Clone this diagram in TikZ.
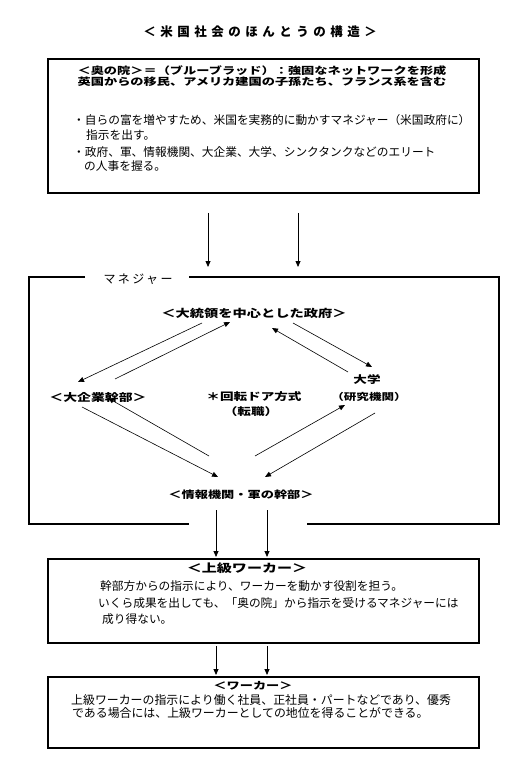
\documentclass[tikz,border=0pt]{standalone}
\usepackage{fontspec}
\usetikzlibrary{arrows.meta,positioning,calc}
\newfontfamily\jp{Noto Sans CJK JP}
\newfontfamily\jphead[FakeStretch=1.32]{Noto Sans CJK JP}
\newfontfamily\jptitle[LetterSpace=36]{Noto Sans CJK JP}
\newfontfamily\jpspaced[LetterSpace=20]{Noto Sans CJK JP}
\definecolor{inkblack}{HTML}{000000}

\begin{document}
\begin{tikzpicture}[x=1pt,y=-1pt,
  head/.style={font=\jphead\bfseries\fontsize{10}{12}\selectfont,inner sep=0},
  body/.style={font=\jp\fontsize{11.7}{14}\selectfont,anchor=west,inner sep=0},
  frame/.style={draw=inkblack,line width=1.1pt,anchor=north west,outer sep=0},
  arr/.style={-{Triangle[length=6pt,width=5pt]},line width=0.8pt},
  diag/.style={-{Triangle[length=6pt,width=5pt]},line width=0.6pt}]
\useasboundingbox (0,0) rectangle (517,767);

% title
\node[font=\jptitle\bfseries\fontsize{12.5}{14}\selectfont,inner sep=0] (title) at (260,32) {＜米国社会のほんとうの構造＞};

% oku no in
\node[frame,minimum width=431,minimum height=134] (okunoin) at (48,59) {};
\node[head] (oku1) at (262,71) {＜奥の院＞＝（ブルーブラッド）：強固なネットワークを形成};
\node[head] (oku2) at (262,82) {英国からの移民、アメリカ建国の子孫たち、フランス系を含む};
\node[body] (okub1) at (73,120) {・自らの富を増やすため、米国を実務的に動かすマネジャー（米国政府に）};
\node[body] (okub1b) at (86,135) {指示を出す。};
\node[body] (okub2) at (73,152) {・政府、軍、情報機関、大企業、大学、シンクタンクなどのエリート};
\node[body] (okub2b) at (84,166) {の人事を握る。};

\coordinate (down1s) at (208,213); \coordinate (down1e) at (208,267);
\coordinate (down2s) at (298,213); \coordinate (down2e) at (298,267);
\draw[arr] (down1s) -- (down1e);
\draw[arr] (down2s) -- (down2e);

% manager frame
\draw[line width=1.2pt] (85,277) -- (29,277) -- (29,524) -- (189,524);
\draw[line width=1.2pt] (307,524) -- (499,524) -- (499,277) -- (189,277);
\node[font=\jpspaced\fontsize{12}{14}\selectfont,inner sep=0] (mgr) at (138,279) {マネジャー};

\node[head,font=\jphead\bfseries\fontsize{10.8}{13}\selectfont] (gov) at (254,313) {＜大統領を中心とした政府＞};
\node[head,font=\jphead\bfseries\fontsize{10.5}{13}\selectfont] (kigyo) at (98,397) {＜大企業幹部＞};
\node[head,font=\jphead\bfseries\fontsize{10.3}{13}\selectfont] (kaiten) at (254,397) {＊回転ドア方式};
\node[head,font=\jphead\bfseries\fontsize{10.3}{13}\selectfont] (tenshoku) at (251,412) {（転職）};
\node[head,font=\jphead\bfseries\fontsize{10.3}{13}\selectfont] (daigaku) at (367,380) {大学};
\node[head,font=\jphead\bfseries\fontsize{9.5}{13}\selectfont] (kenkyu) at (369,397) {（研究機関）};
\node[head] (joho) at (241,495) {＜情報機関・軍の幹部＞};

% revolving door
\coordinate (g2ks) at (202,323); \coordinate (g2ke) at (78,382);
\coordinate (k2gs) at (115,379); \coordinate (k2ge) at (230,322);
\coordinate (d2gs) at (348,372); \coordinate (d2ge) at (272,328);
\coordinate (g2ds) at (293,323); \coordinate (g2de) at (372,367);
\coordinate (k2js) at (82,407);  \coordinate (k2je) at (218,477);
\coordinate (j2ks) at (209,456); \coordinate (j2ke) at (108,398);
\coordinate (j2ds) at (255,456); \coordinate (j2de) at (345,405);
\coordinate (d2js) at (375,413); \coordinate (d2je) at (265,477);
\draw[diag] (g2ks) -- (g2ke);
\draw[diag] (k2gs) -- (k2ge);
\draw[diag] (d2gs) -- (d2ge);
\draw[diag] (g2ds) -- (g2de);
\draw[diag] (k2js) -- (k2je);
\draw[diag] (j2ks) -- (j2ke);
\draw[diag] (j2ds) -- (j2de);
\draw[diag] (d2js) -- (d2je);

\coordinate (down3s) at (216,510); \coordinate (down3e) at (216,557);
\coordinate (down4s) at (267,510); \coordinate (down4e) at (267,557);
\draw[arr] (down3s) -- (down3e);
\draw[arr] (down4s) -- (down4e);

% upper workers
\node[frame,minimum width=431,minimum height=84] (joukyu) at (48,559) {};
\node[head,font=\jphead\bfseries\fontsize{11.4}{14}\selectfont] (joukyut) at (247,568) {＜上級ワーカー＞};
\node[body] (joukyu1) at (100,586) {幹部方からの指示により、ワーカーを動かす役割を担う。};
\node[body] (joukyu2) at (98,603) {いくら成果を出しても、「奥の院」から指示を受けるマネジャーには};
\node[body] (joukyu3) at (102,619) {成り得ない。};

\coordinate (down5s) at (216,646); \coordinate (down5e) at (216,675);
\coordinate (down6s) at (267,646); \coordinate (down6e) at (267,675);
\draw[arr] (down5s) -- (down5e);
\draw[arr] (down6s) -- (down6e);

% workers
\node[frame,minimum width=431,minimum height=71] (worker) at (48,677) {};
\node[head] (workert) at (253,686) {＜ワーカー＞};
\node[body,font=\jp\fontsize{11.9}{14}\selectfont] (worker1) at (71,700) {上級ワーカーの指示により働く社員、正社員・パートなどであり、優秀};
\node[body,font=\jp\fontsize{11.9}{14}\selectfont] (worker2) at (72,713) {である場合には、上級ワーカーとしての地位を得ることができる。};
\end{tikzpicture}
\end{document}
